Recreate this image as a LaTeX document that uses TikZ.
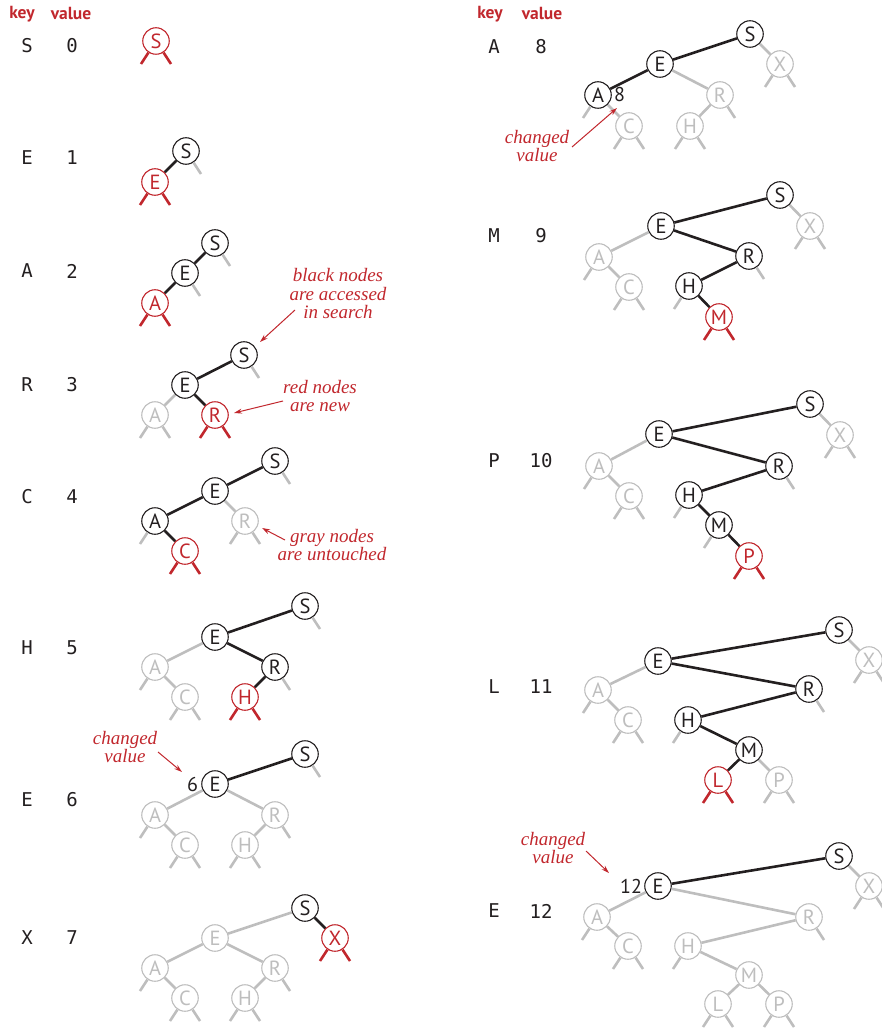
\documentclass[tikz,border=0pt]{standalone}
\usepackage{fontspec}
\usetikzlibrary{arrows.meta,positioning}
\setmainfont{Liberation Serif}
\newfontfamily\nodefont{PT Sans}
\newfontfamily\keyfont{DejaVu Sans Mono}
\definecolor{ink}{HTML}{231F20}
\definecolor{untouched}{HTML}{BEBEBE}
\definecolor{newred}{HTML}{C1272D}
\tikzset{
  treenode/.style={circle,fill=white,minimum size=26.5pt,inner sep=0pt,line width=1.1pt,
    font=\nodefont\fontsize{20.5}{20.5}\selectfont},
  seen/.style={treenode,draw=ink,text=ink},
  unseen/.style={treenode,draw=untouched,text=untouched},
  fresh/.style={treenode,draw=newred,text=newred},
  seenlink/.style={line width=2.6pt,ink},
  unseenlink/.style={line width=2.6pt,untouched},
  freshlink/.style={line width=2.6pt,newred},
  keylabel/.style={font=\keyfont\fontsize{19}{19}\selectfont,text=ink},
  header/.style={font=\nodefont\bfseries\fontsize{17.5}{17.5}\selectfont,text=newred},
  note/.style={font=\itshape\fontsize{19}{18.5}\selectfont,text=newred,align=center},
  notearrow/.style={-{Stealth[length=8pt,width=5pt]},line width=1pt,newred},
  newval/.style={font=\nodefont\fontsize{20}{20}\selectfont,text=ink,inner sep=1pt}
}
\begin{document}
\begin{tikzpicture}[x=1pt,y=-1pt]
  \useasboundingbox (0,0) rectangle (882,1032);
  % Column headers
  \node[header] (keyL) at (22,14) {key};
  \node[header] (valL) at (71,14) {value};
  \node[header] (keyR) at (490,14) {key};
  \node[header] (valR) at (542,14) {value};
  % Keys and values, left column
  \foreach \k/\v/\y [count=\i] in {S/0/46,E/1/158,A/2/271,R/3/385,C/4/497,H/5/648,E/6/800,X/7/938}{
    \node[keylabel] (key\i) at (27,\y) {\k};
    \node[keylabel] (val\i) at (72,\y) {\v};
  }
  % Keys and values, right column
  \foreach \k/\v/\y [count=\i from 9] in {A/8/47,M/9/236,P/10/461,L/11/687,E/12/911}{
    \node[keylabel] (key\i) at (494,\y) {\k};
    \node[keylabel] (val\i) at (541,\y) {\v};
  }

  % S 0
  \node[fresh] (S0) at (156,41) {S};
  \draw[freshlink] (S0) -- ++(-15,23) (S0) -- ++(15,23);

  % E 1
  \node[seen] (S1) at (186,151) {S};
  \node[fresh] (E1) at (155,182) {E};
  \draw[seenlink] (S1) -- (E1);
  \draw[unseenlink] (S1) -- ++(15,23);
  \draw[freshlink] (E1) -- ++(-15,23) (E1) -- ++(15,23);

  % A 2
  \node[seen] (S2) at (215,243) {S};
  \node[seen] (E2) at (185,273) {E};
  \node[fresh] (A2) at (155,303) {A};
  \draw[seenlink] (S2) -- (E2) -- (A2);
  \draw[unseenlink] (S2) -- ++(15,23) (E2) -- ++(15,23);
  \draw[freshlink] (A2) -- ++(-15,23) (A2) -- ++(15,23);

  % R 3
  \node[seen] (S3) at (244,355) {S};
  \node[seen] (E3) at (185,385) {E};
  \node[unseen] (A3) at (155,415) {A};
  \node[fresh] (R3) at (215,415) {R};
  \draw[seenlink] (S3) -- (E3) -- (R3);
  \draw[unseenlink] (E3) -- (A3);
  \draw[unseenlink] (S3) -- ++(15,23) (A3) -- ++(-15,23) (A3) -- ++(15,23);
  \draw[freshlink] (R3) -- ++(-15,23) (R3) -- ++(15,23);
  % notes
  \node[note] (accessed) at (338,294) {black nodes\\are accessed\\in search};
  \coordinate (accTail) at (295,310);
  \coordinate (accTip) at (260,342);
  \draw[notearrow] (accTail) -- (accTip);
  \node[note] (newnote) at (320,396) {red nodes\\are new};
  \coordinate (newTail) at (283,401);
  \coordinate (newTip) at (234,413);
  \draw[notearrow] (newTail) -- (newTip);

  % C 4
  \node[seen] (S4) at (275,461) {S};
  \node[seen] (E4) at (215,491) {E};
  \node[seen] (A4) at (155,521) {A};
  \node[unseen] (R4) at (245,521) {R};
  \node[fresh] (C4) at (185,551) {C};
  \draw[seenlink] (S4) -- (E4) -- (A4) -- (C4);
  \draw[unseenlink] (E4) -- (R4);
  \draw[unseenlink] (S4) -- ++(15,23) (A4) -- ++(-15,23) (R4) -- ++(-15,23) (R4) -- ++(15,23);
  \draw[freshlink] (C4) -- ++(-15,23) (C4) -- ++(15,23);
  % note
  \node[note] (graynote) at (332,545) {gray nodes\\are untouched};
  \coordinate (grayTail) at (285,540);
  \coordinate (grayTip) at (262,528);
  \draw[notearrow] (grayTail) -- (grayTip);

  % H 5
  \node[seen] (S5) at (305,606) {S};
  \node[seen] (E5) at (215,637) {E};
  \node[unseen] (A5) at (155,667) {A};
  \node[seen] (R5) at (275,667) {R};
  \node[unseen] (C5) at (185,697) {C};
  \node[fresh] (H5) at (245,697) {H};
  \draw[seenlink] (S5) -- (E5) -- (R5) -- (H5);
  \draw[unseenlink] (E5) -- (A5) -- (C5);
  \draw[unseenlink] (S5) -- ++(15,23) (A5) -- ++(-15,23) (C5) -- ++(-15,23) (C5) -- ++(15,23)
    (R5) -- ++(15,23);
  \draw[freshlink] (H5) -- ++(-15,23) (H5) -- ++(15,23);

  % E 6
  \node[seen] (S6) at (305,754) {S};
  \node[seen] (E6) at (215,784) {E};
  \node[unseen] (A6) at (155,815) {A};
  \node[unseen] (R6) at (275,815) {R};
  \node[unseen] (C6) at (185,845) {C};
  \node[unseen] (H6) at (245,845) {H};
  \draw[seenlink] (S6) -- (E6);
  \draw[unseenlink] (A6) -- (E6) -- (R6) (A6) -- (C6) (R6) -- (H6);
  \draw[unseenlink] (S6) -- ++(15,23) (A6) -- ++(-15,23) (C6) -- ++(-15,23) (C6) -- ++(15,23)
    (H6) -- ++(-15,23) (H6) -- ++(15,23) (R6) -- ++(15,23);
  \node[newval,left=2pt of E6] (v6) {6};
  \node[note] (changed6) at (125,747) {changed\\value};
  \coordinate (ch6Tail) at (158,752);
  \coordinate (ch6Tip) at (182,772);
  \draw[notearrow] (ch6Tail) -- (ch6Tip);

  % X 7
  \node[seen] (S7) at (305,908) {S};
  \node[unseen] (E7) at (215,938) {E};
  \node[fresh] (X7) at (335,938) {X};
  \node[unseen] (A7) at (155,968) {A};
  \node[unseen] (R7) at (275,968) {R};
  \node[unseen] (C7) at (185,998) {C};
  \node[unseen] (H7) at (245,998) {H};
  \draw[seenlink] (S7) -- (X7);
  \draw[unseenlink] (S7) -- (E7) -- (A7) -- (C7) (E7) -- (R7) -- (H7);
  \draw[unseenlink] (A7) -- ++(-15,23) (C7) -- ++(-15,23) (C7) -- ++(15,23)
    (H7) -- ++(-15,23) (H7) -- ++(15,23) (R7) -- ++(15,23);
  \draw[freshlink] (X7) -- ++(-15,23) (X7) -- ++(15,23);

  % A 8
  \node[seen] (S8) at (750,34) {S};
  \node[seen] (E8) at (660,64) {E};
  \node[unseen] (X8) at (780,64) {X};
  \node[seen] (A8) at (598,95) {A};
  \node[unseen] (R8) at (720,95) {R};
  \node[unseen] (C8) at (629,126) {C};
  \node[unseen] (H8) at (690,126) {H};
  \draw[seenlink] (S8) -- (E8) -- (A8);
  \draw[unseenlink] (S8) -- (X8) (E8) -- (R8) -- (H8) (A8) -- (C8);
  \draw[unseenlink] (X8) -- ++(-15,23) (X8) -- ++(15,23) (A8) -- ++(-15,23)
    (C8) -- ++(-15,23) (C8) -- ++(15,23) (H8) -- ++(-15,23) (H8) -- ++(15,23) (R8) -- ++(15,23);
  \node[newval,right=1pt of A8] (v8) {8};
  \node[note] (changed8) at (537,146) {changed\\value};
  \coordinate (ch8Tail) at (572,147);
  \coordinate (ch8Tip) at (617,108);
  \draw[notearrow] (ch8Tail) -- (ch8Tip);

  % M 9
  \node[seen] (S9) at (780,195) {S};
  \node[seen] (E9) at (661,226) {E};
  \node[unseen] (X9) at (810,226) {X};
  \node[unseen] (A9) at (599,257) {A};
  \node[seen] (R9) at (749,256) {R};
  \node[unseen] (C9) at (629,287) {C};
  \node[seen] (H9) at (689,286) {H};
  \node[fresh] (M9) at (719,317) {M};
  \draw[seenlink] (S9) -- (E9) -- (R9) -- (H9) -- (M9);
  \draw[unseenlink] (S9) -- (X9) (E9) -- (A9) -- (C9);
  \draw[unseenlink] (X9) -- ++(-15,23) (X9) -- ++(15,23) (A9) -- ++(-15,23)
    (C9) -- ++(-15,23) (C9) -- ++(15,23) (R9) -- ++(15,23) (H9) -- ++(-15,23);
  \draw[freshlink] (M9) -- ++(-15,23) (M9) -- ++(15,23);

  % P 10
  \node[seen] (S10) at (810,404) {S};
  \node[seen] (E10) at (659,434) {E};
  \node[unseen] (X10) at (840,435) {X};
  \node[unseen] (A10) at (599,466) {A};
  \node[seen] (R10) at (779,466) {R};
  \node[unseen] (C10) at (629,496) {C};
  \node[seen] (H10) at (689,495) {H};
  \node[seen] (M10) at (719,525) {M};
  \node[fresh] (P10) at (749,556) {P};
  \draw[seenlink] (S10) -- (E10) -- (R10) -- (H10) -- (M10) -- (P10);
  \draw[unseenlink] (S10) -- (X10) (E10) -- (A10) -- (C10);
  \draw[unseenlink] (X10) -- ++(-15,23) (X10) -- ++(15,23) (A10) -- ++(-15,23)
    (C10) -- ++(-15,23) (C10) -- ++(15,23) (R10) -- ++(15,23) (H10) -- ++(-15,23)
    (M10) -- ++(-15,23);
  \draw[freshlink] (P10) -- ++(-15,23) (P10) -- ++(15,23);

  % L 11
  \node[seen] (S11) at (839,630) {S};
  \node[seen] (E11) at (658,661) {E};
  \node[unseen] (X11) at (869,660) {X};
  \node[unseen] (A11) at (598,690) {A};
  \node[seen] (R11) at (809,689) {R};
  \node[unseen] (C11) at (628,720) {C};
  \node[seen] (H11) at (688,720) {H};
  \node[seen] (M11) at (749,750) {M};
  \node[fresh] (L11) at (718,780) {L};
  \node[unseen] (P11) at (779,780) {P};
  \draw[seenlink] (S11) -- (E11) -- (R11) -- (H11) -- (M11) -- (L11);
  \draw[unseenlink] (S11) -- (X11) (E11) -- (A11) -- (C11) (M11) -- (P11);
  \draw[unseenlink] (X11) -- ++(-15,23) (X11) -- ++(15,23) (A11) -- ++(-15,23)
    (C11) -- ++(-15,23) (C11) -- ++(15,23) (R11) -- ++(15,23) (H11) -- ++(-15,23)
    (P11) -- ++(-15,23) (P11) -- ++(15,23);
  \draw[freshlink] (L11) -- ++(-15,23) (L11) -- ++(15,23);

  % E 12
  \node[seen] (S12) at (839,856) {S};
  \node[seen] (E12) at (658,886) {E};
  \node[unseen] (X12) at (869,886) {X};
  \node[unseen] (A12) at (597,917) {A};
  \node[unseen] (R12) at (809,917) {R};
  \node[unseen] (C12) at (628,946) {C};
  \node[unseen] (H12) at (688,946) {H};
  \node[unseen] (M12) at (749,975) {M};
  \node[unseen] (L12) at (718,1004) {L};
  \node[unseen] (P12) at (779,1004) {P};
  \draw[seenlink] (S12) -- (E12);
  \draw[unseenlink] (S12) -- (X12) (A12) -- (E12) -- (R12) -- (H12) -- (M12) -- (L12)
    (A12) -- (C12) (M12) -- (P12);
  \draw[unseenlink] (X12) -- ++(-15,23) (X12) -- ++(15,23) (A12) -- ++(-15,23)
    (C12) -- ++(-15,23) (C12) -- ++(15,23) (R12) -- ++(15,23) (H12) -- ++(-15,23)
    (L12) -- ++(-15,23) (L12) -- ++(15,23) (P12) -- ++(-15,23) (P12) -- ++(15,23);
  \node[newval,left=1pt of E12] (v12) {12};
  \node[note] (changed12) at (553,848) {changed\\value};
  \coordinate (ch12Tail) at (586,851);
  \coordinate (ch12Tip) at (609,873);
  \draw[notearrow] (ch12Tail) -- (ch12Tip);
\end{tikzpicture}
\end{document}
